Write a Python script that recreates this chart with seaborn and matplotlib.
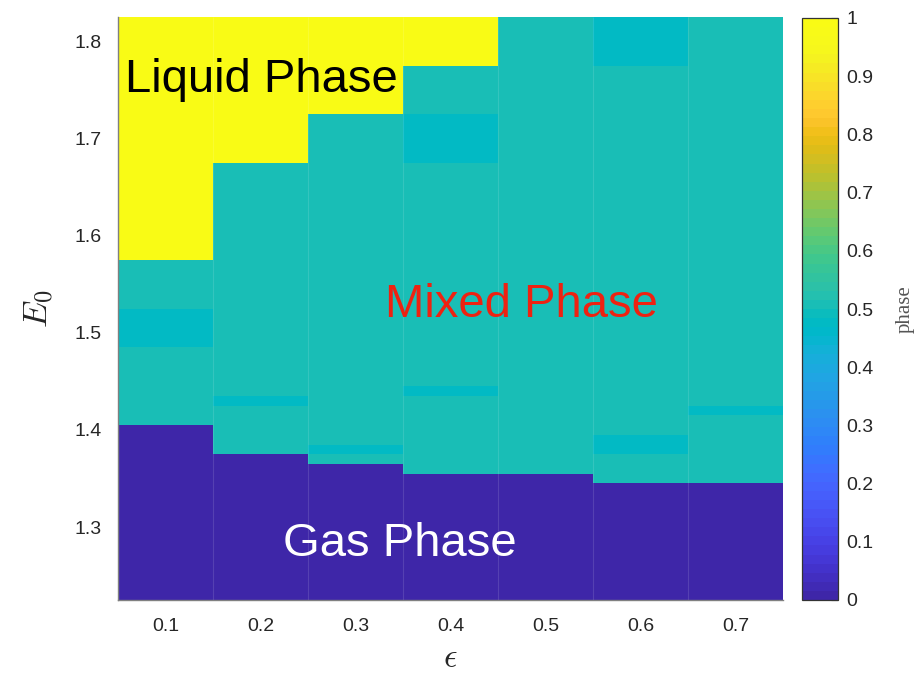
import numpy as np
import pandas as pd
import matplotlib
matplotlib.use("Agg")
import matplotlib.pyplot as plt
from matplotlib.colors import ListedColormap
from matplotlib.ticker import FuncFormatter
import seaborn as sns

# ---------------- data ----------------
eps_values = [0.1, 0.2, 0.3, 0.4, 0.5, 0.6, 0.7]
E0_values = [round(1.23 + 0.01 * k, 2) for k in range(60)]   # 1.23 ... 1.82
gas_top = [1.40, 1.37, 1.36, 1.35, 1.35, 1.34, 1.34]          # highest gas row per column
liquid_bottom = [1.58, 1.68, 1.73, 1.78, None, None, None]    # lowest liquid row per column
gas_value = 0.0
mixed_value = 0.5
liquid_value = 1.0
stripe_value = 0.48
# (column eps, lowest E0, highest E0) of the slightly different mixed bands
stripes = [(0.1, 1.49, 1.52), (0.2, 1.43, 1.43), (0.3, 1.38, 1.38),
           (0.4, 1.44, 1.44), (0.4, 1.68, 1.72), (0.6, 1.38, 1.39),
           (0.6, 1.78, 1.82), (0.7, 1.42, 1.42)]
ytick_values = [1.3, 1.4, 1.5, 1.6, 1.7, 1.8]
cbar_ticks = [0, 0.1, 0.2, 0.3, 0.4, 0.5, 0.6, 0.7, 0.8, 0.9, 1.0]

# ---------------- build grid ----------------
Z = np.full((len(E0_values), len(eps_values)), mixed_value)
E = np.array(E0_values)
for j, e in enumerate(eps_values):
    Z[E <= gas_top[j] + 1e-9, j] = gas_value
    if liquid_bottom[j] is not None:
        Z[E >= liquid_bottom[j] - 1e-9, j] = liquid_value
for (e, lo, hi) in stripes:
    j = eps_values.index(e)
    Z[(E >= lo - 1e-9) & (E <= hi + 1e-9), j] = stripe_value

df = pd.DataFrame(Z[::-1], index=E0_values[::-1], columns=eps_values)

# ---------------- parula colormap ----------------
parula = [
[0.2422,0.1504,0.6603],[0.2504,0.1650,0.7076],[0.2578,0.1818,0.7511],[0.2647,0.1978,0.7952],
[0.2706,0.2147,0.8364],[0.2751,0.2342,0.8710],[0.2783,0.2559,0.8991],[0.2803,0.2782,0.9221],
[0.2813,0.3006,0.9414],[0.2810,0.3228,0.9579],[0.2795,0.3447,0.9717],[0.2760,0.3667,0.9829],
[0.2699,0.3892,0.9906],[0.2602,0.4123,0.9952],[0.2440,0.4358,0.9988],[0.2206,0.4603,0.9973],
[0.1963,0.4847,0.9892],[0.1834,0.5074,0.9798],[0.1786,0.5289,0.9682],[0.1764,0.5499,0.9520],
[0.1687,0.5703,0.9359],[0.1540,0.5902,0.9218],[0.1460,0.6091,0.9079],[0.1380,0.6276,0.8973],
[0.1248,0.6459,0.8883],[0.1113,0.6635,0.8763],[0.0952,0.6798,0.8598],[0.0689,0.6948,0.8394],
[0.0297,0.7082,0.8163],[0.0036,0.7198,0.7917],[0.0067,0.7296,0.7672],[0.0433,0.7377,0.7418],
[0.0964,0.7447,0.7150],[0.1408,0.7514,0.6857],[0.1717,0.7587,0.6554],[0.1938,0.7659,0.6251],
[0.2161,0.7723,0.5925],[0.2470,0.7793,0.5567],[0.2906,0.7840,0.5180],[0.3406,0.7868,0.4781],
[0.3909,0.7866,0.4370],[0.4456,0.7839,0.3964],[0.5044,0.7793,0.3560],[0.5616,0.7742,0.3149],
[0.6174,0.7683,0.2737],[0.6720,0.7619,0.2289],[0.7242,0.7553,0.1859],[0.7739,0.7485,0.1521],
[0.8223,0.7434,0.1282],[0.8686,0.7398,0.0986],[0.9088,0.7446,0.0883],[0.9473,0.7545,0.1063],
[0.9797,0.7656,0.1556],[0.9961,0.7868,0.1808],[0.9952,0.8129,0.1814],[0.9871,0.8402,0.1738],
[0.9774,0.8680,0.1613],[0.9706,0.8959,0.1483],[0.9635,0.9226,0.1380],[0.9618,0.9493,0.1257],
[0.9643,0.9700,0.1115],[0.9683,0.9780,0.1020],[0.9730,0.9820,0.0930],[0.9769,0.9839,0.0805]]
cmap = ListedColormap(parula, name="parula")

# ---------------- figure ----------------
sns.set_theme(style="white")
plt.rcParams["font.family"] = ["Liberation Sans", "DejaVu Sans"]
plt.rcParams["mathtext.fontset"] = "cm"

fig = plt.figure(figsize=(9.14, 6.76), dpi=100)
ax = fig.add_axes([118/914, 1-600/676, 665/914, 583/676])
cax = fig.add_axes([802/914, 1-600/676, 36/914, 582/676])

sns.heatmap(df, cmap=cmap, vmin=0, vmax=1, ax=ax, cbar_ax=cax,
            xticklabels=[f"{v:g}" for v in eps_values], yticklabels=False,
            linewidths=0)

# faint seams between columns, as in the rendered original
ax.vlines(np.arange(1, len(eps_values)), 0, len(E0_values), colors="white",
          alpha=0.12, linewidth=0.8)

rows = list(df.index)
ypos = [int(np.argmin(np.abs(np.array(rows) - v))) + 0.5 for v in ytick_values]
ax.set_yticks(ypos)
ax.set_yticklabels([f"{v:g}" for v in ytick_values], rotation=0)
ax.tick_params(axis="both", length=0, labelsize=14, colors="#262626")
ax.tick_params(axis="y", pad=12)
ax.tick_params(axis="x", pad=13)
plt.setp(ax.get_xticklabels(), rotation=0)

for s in ["left", "bottom"]:
    ax.spines[s].set_visible(True)
    ax.spines[s].set_color("#808080")
    ax.spines[s].set_linewidth(1.0)
for s in ["top", "right"]:
    ax.spines[s].set_visible(False)

ax.set_xlabel(r"$\epsilon$", fontsize=24, labelpad=6, color="#262626")
ax.set_ylabel(r"$E_0$", fontsize=25, labelpad=13, color="#262626")

# annotations
ax.text(0.0105, 0.872, "Liquid Phase", transform=ax.transAxes, fontsize=34,
        color="black", ha="left", va="baseline")
ax.text(0.4015, 0.486, "Mixed Phase", transform=ax.transAxes, fontsize=34,
        color="#EE2211", ha="left", va="baseline")
ax.text(0.2486, 0.076, "Gas Phase", transform=ax.transAxes, fontsize=34,
        color="white", ha="left", va="baseline")

# colorbar
cbar = ax.collections[0].colorbar
cbar.set_ticks(cbar_ticks)
cbar.ax.yaxis.set_major_formatter(FuncFormatter(lambda v, p: f"{v:g}"))
cbar.ax.tick_params(labelsize=14, colors="#262626", direction="in", length=5,
                    width=0.8, pad=6)
cbar.outline.set_visible(True)
cbar.outline.set_edgecolor("#333333")
cbar.outline.set_linewidth(0.9)
cbar.set_label("phase", family=["Liberation Serif", "DejaVu Serif"], fontsize=15,
               color="#555555", labelpad=16)

fig.savefig("out.png", dpi=100)
